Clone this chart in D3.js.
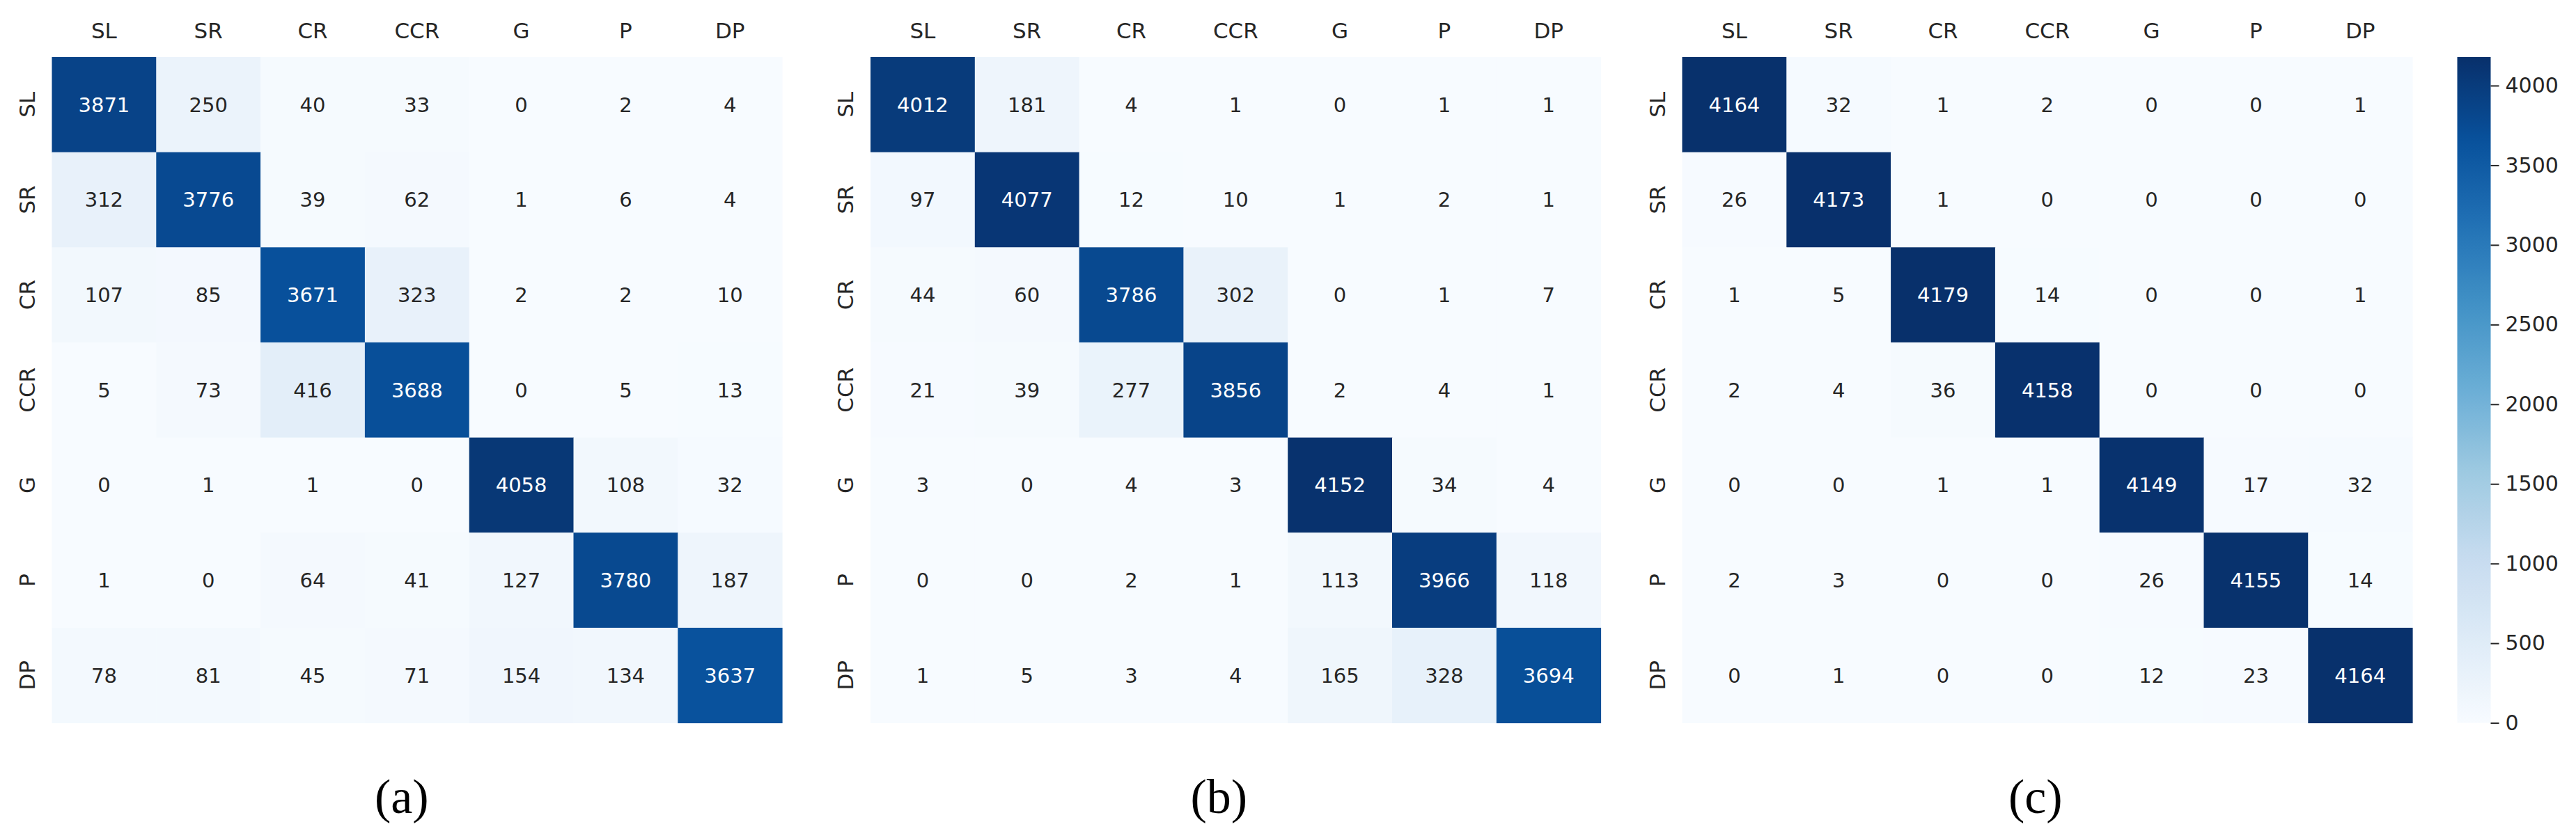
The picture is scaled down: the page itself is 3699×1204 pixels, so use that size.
<!DOCTYPE html>
<html>
<head>
<meta charset="utf-8">
<script src="https://cdn.jsdelivr.net/npm/d3@7"></script>
<style>
  html, body { margin: 0; padding: 0; background: #ffffff; }
  svg { display: block; }
</style>
</head>
<body>
<svg id="chart" width="3699" height="1204"></svg>
<script>
// ---------------- DATA ----------------
const categories = ["SL", "SR", "CR", "CCR", "G", "P", "DP"];

const matrixA = [
  [3871, 250, 40, 33, 0, 2, 4],
  [312, 3776, 39, 62, 1, 6, 4],
  [107, 85, 3671, 323, 2, 2, 10],
  [5, 73, 416, 3688, 0, 5, 13],
  [0, 1, 1, 0, 4058, 108, 32],
  [1, 0, 64, 41, 127, 3780, 187],
  [78, 81, 45, 71, 154, 134, 3637]
];

const matrixB = [
  [4012, 181, 4, 1, 0, 1, 1],
  [97, 4077, 12, 10, 1, 2, 1],
  [44, 60, 3786, 302, 0, 1, 7],
  [21, 39, 277, 3856, 2, 4, 1],
  [3, 0, 4, 3, 4152, 34, 4],
  [0, 0, 2, 1, 113, 3966, 118],
  [1, 5, 3, 4, 165, 328, 3694]
];

const matrixC = [
  [4164, 32, 1, 2, 0, 0, 1],
  [26, 4173, 1, 0, 0, 0, 0],
  [1, 5, 4179, 14, 0, 0, 1],
  [2, 4, 36, 4158, 0, 0, 0],
  [0, 0, 1, 1, 4149, 17, 32],
  [2, 3, 0, 0, 26, 4155, 14],
  [0, 1, 0, 0, 12, 23, 4164]
];

const panelLabels = ["(a)", "(b)", "(c)"];
const colorbarTicks = [0, 500, 1000, 1500, 2000, 2500, 3000, 3500, 4000];
const blues = ["#f7fbff", "#deebf7", "#c6dbef", "#9ecae1", "#6baed6",
               "#4292c6", "#2171b5", "#08519c", "#08306b"];

// ---------------- LAYOUT ----------------
const matrices = [matrixA, matrixB, matrixC];
const panelLeft = [74.5, 1250, 2415.5];
const topY = 82;
const W = 1048.6, H = 956.6;
const labelOffset = [-22, -24, -17];
const vmax = d3.max(matrices.flat(2));

const svg = d3.select("#chart");
const font = "'DejaVu Sans', sans-serif";
const textGrey = "#262626";

const color = d3.scaleLinear()
  .domain(blues.map((_, i) => vmax * i / (blues.length - 1)))
  .range(blues)
  .interpolate(d3.interpolateRgb)
  .clamp(true);

function lum(c) {
  const rgb = d3.rgb(c);
  const f = v => { v /= 255; return v <= 0.03928 ? v / 12.92 : Math.pow((v + 0.055) / 1.055, 2.4); };
  return 0.2126 * f(rgb.r) + 0.7152 * f(rgb.g) + 0.0722 * f(rgb.b);
}

const x = d3.scaleBand().domain(categories).range([0, W]);
const y = d3.scaleBand().domain(categories).range([0, H]);

matrices.forEach((m, pi) => {
  const g = svg.append("g").attr("transform", `translate(${panelLeft[pi]},${topY})`);
  const cells = [];
  m.forEach((row, ri) => row.forEach((v, ci) => cells.push({ r: categories[ri], c: categories[ci], v })));

  g.selectAll("rect.cell").data(cells).join("rect")
    .attr("class", "cell")
    .attr("x", d => x(d.c))
    .attr("y", d => y(d.r))
    .attr("width", x.bandwidth() + 0.5)
    .attr("height", y.bandwidth() + 0.5)
    .attr("fill", d => color(d.v));

  g.selectAll("text.ann").data(cells).join("text")
    .attr("class", "ann")
    .attr("x", d => x(d.c) + x.bandwidth() / 2)
    .attr("y", d => y(d.r) + y.bandwidth() / 2)
    .attr("dy", "0.36em")
    .attr("text-anchor", "middle")
    .style("font-family", font)
    .style("font-size", "29px")
    .attr("fill", d => lum(color(d.v)) > 0.408 ? textGrey : "#ffffff")
    .text(d => d.v);

  // top axis
  const xa = g.append("g").call(d3.axisTop(x).tickSize(0).tickPadding(27));
  xa.select(".domain").remove();
  xa.selectAll("text").style("font-family", font).style("font-size", "31px").attr("fill", textGrey);

  // left axis, rotated labels
  const ya = g.append("g").call(d3.axisLeft(y).tickSize(0));
  ya.select(".domain").remove();
  ya.selectAll("text")
    .attr("x", 0).attr("dy", 0)
    .attr("text-anchor", "middle")
    .attr("transform", "translate(-25,0) rotate(-90)")
    .style("font-family", font).style("font-size", "31px").attr("fill", textGrey);

  // panel label
  svg.append("text")
    .attr("x", panelLeft[pi] + W / 2 + labelOffset[pi])
    .attr("y", 1168)
    .attr("text-anchor", "middle")
    .style("font-family", "'Liberation Serif', 'DejaVu Serif', serif")
    .style("font-size", "70px")
    .attr("fill", "#000")
    .text(panelLabels[pi]);
});

// ---------------- COLORBAR ----------------
const cbX = 3528.5, cbW = 48;
const cbScale = d3.scaleLinear().domain([0, vmax]).range([topY + H, topY]);
const defs = svg.append("defs");
const grad = defs.append("linearGradient").attr("id", "cbgrad")
  .attr("x1", 0).attr("y1", 1).attr("x2", 0).attr("y2", 0);
d3.range(0, 1.0001, 0.02).forEach(t => {
  grad.append("stop").attr("offset", t).attr("stop-color", color(t * vmax));
});
svg.append("rect")
  .attr("x", cbX).attr("y", topY).attr("width", cbW).attr("height", H)
  .attr("fill", "url(#cbgrad)");
const cba = svg.append("g").attr("transform", `translate(${cbX + cbW},0)`)
  .call(d3.axisRight(cbScale).tickValues(colorbarTicks).tickFormat(d3.format("d"))
        .tickSize(12).tickPadding(9));
cba.select(".domain").remove();
cba.selectAll("line").attr("stroke", textGrey).attr("stroke-width", 2);
cba.selectAll("text").style("font-family", font).style("font-size", "30px").attr("fill", textGrey);
</script>
</body>
</html>
